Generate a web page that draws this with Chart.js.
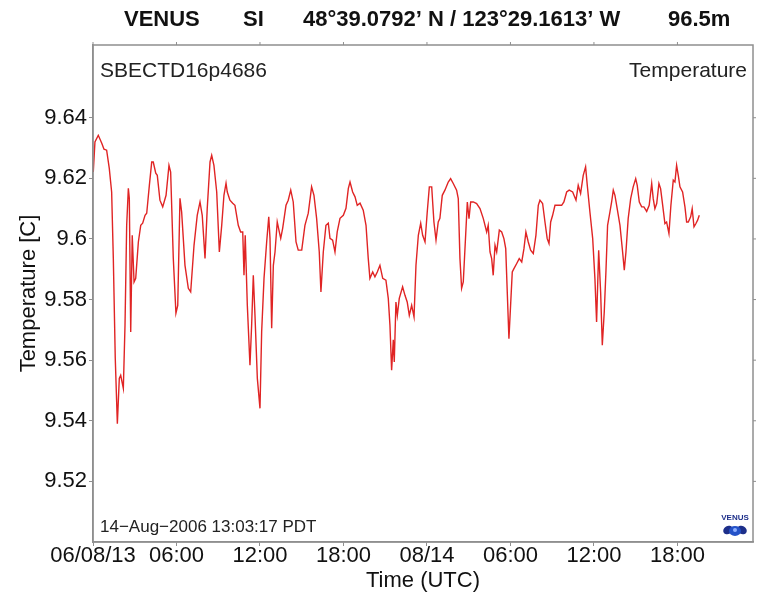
<!DOCTYPE html>
<html>
<head>
<meta charset="utf-8">
<script src="https://cdn.jsdelivr.net/npm/chart.js@4.4.0/dist/chart.umd.min.js"></script>
<style>
  body { margin: 0; background: #fff; }
</style>
</head>
<body>
<canvas id="myChart" width="760" height="600"></canvas>
<script>
// hours since 06/08/13 00:00 UTC
const times = [
  0.02,0.14,0.38,0.63,0.79,0.98,1.17,1.34,1.46,1.60,
  1.75,1.89,1.99,2.18,2.30,2.42,2.54,2.61,2.71,2.82,
  2.95,3.07,3.26,3.43,3.57,3.74,3.86,4.05,4.22,4.33,
  4.51,4.62,4.81,5.01,5.25,5.46,5.58,5.77,5.96,6.09,
  6.25,6.37,6.61,6.85,7.02,7.26,7.49,7.69,7.85,8.05,
  8.21,8.41,8.53,8.69,8.89,9.08,9.25,9.41,9.56,9.65,
  9.84,10.04,10.20,10.44,10.61,10.76,10.85,10.94,11.09,11.28,
  11.40,11.52,11.64,11.81,12.00,12.12,12.29,12.48,12.63,12.72,
  12.84,12.96,13.08,13.24,13.39,13.49,13.63,13.87,14.03,14.21,
  14.39,14.59,14.75,15.00,15.23,15.47,15.71,15.88,16.07,16.26,
  16.38,16.55,16.74,16.91,17.03,17.22,17.39,17.55,17.75,17.99,
  18.18,18.35,18.47,18.66,18.83,18.99,19.19,19.42,19.62,19.78,
  19.90,20.10,20.26,20.43,20.62,20.82,21.05,21.22,21.34,21.46,
  21.58,21.65,21.77,21.87,22.01,22.25,22.42,22.58,22.73,22.90,
  23.07,23.21,23.38,23.55,23.69,23.86,24.02,24.17,24.34,24.50,
  24.65,24.81,24.93,25.10,25.29,25.53,25.70,25.89,26.13,26.25,
  26.37,26.49,26.61,26.78,26.90,27.02,27.14,27.33,27.57,27.81,
  28.05,28.29,28.40,28.53,28.65,28.76,28.89,29.01,29.20,29.37,
  29.53,29.66,29.77,29.89,30.01,30.13,30.25,30.45,30.63,30.81,
  30.97,31.11,31.28,31.45,31.64,31.83,32.00,32.12,32.31,32.48,
  32.64,32.77,32.89,33.03,33.20,33.44,33.68,33.84,34.04,34.22,
  34.47,34.71,34.87,35.04,35.23,35.40,35.52,35.71,35.91,36.07,
  36.19,36.34,36.48,36.60,36.74,36.86,36.98,37.15,37.27,37.39,
  37.51,37.67,37.87,38.06,38.18,38.30,38.46,38.64,38.82,39.00,
  39.11,39.26,39.43,39.59,39.79,39.97,40.15,40.26,40.38,40.51,
  40.67,40.79,40.94,41.10,41.22,41.39,41.53,41.70,41.82,41.94,
  42.06,42.18,42.37,42.54,42.66,42.78,42.95,43.06,43.19,43.33,
  43.45,43.57
];
const temps = [
  9.6221,9.6320,9.6342,9.6316,9.6296,9.6293,9.6233,9.6155,9.5936,9.5606,
  9.5390,9.5540,9.5550,9.5507,9.5715,9.6045,9.6167,9.6134,9.5693,9.6012,
  9.5858,9.5870,9.5990,9.6045,9.6052,9.6078,9.6085,9.6177,9.6254,9.6254,
  9.6217,9.6210,9.6128,9.6106,9.6144,9.6243,9.6221,9.5936,9.5755,9.5781,
  9.6134,9.6089,9.5913,9.5837,9.5825,9.5979,9.6078,9.6122,9.6078,9.5936,
  9.6101,9.6254,9.6276,9.6243,9.6155,9.5957,9.6045,9.6144,9.6184,9.6155,
  9.6128,9.6118,9.6111,9.6045,9.6023,9.6023,9.5880,9.6012,9.5781,9.5583,
  9.5715,9.5880,9.5748,9.5540,9.5441,9.5693,9.5870,9.5990,9.6073,9.6002,
  9.5705,9.5913,9.5957,9.6056,9.6023,9.6002,9.6035,9.6111,9.6128,9.6161,
  9.6122,9.5990,9.5963,9.5963,9.6045,9.6085,9.6172,9.6144,9.6068,9.5957,
  9.5825,9.5957,9.6045,9.6052,9.6002,9.5996,9.5957,9.6023,9.6068,9.6078,
  9.6101,9.6167,9.6188,9.6155,9.6139,9.6111,9.6118,9.6095,9.6045,9.5936,
  9.5870,9.5891,9.5875,9.5891,9.5913,9.5870,9.5864,9.5804,9.5715,9.5567,
  9.5667,9.5594,9.5792,9.5748,9.5804,9.5842,9.5814,9.5792,9.5748,9.5781,
  9.5743,9.5913,9.6012,9.6052,9.6012,9.5990,9.6089,9.6172,9.6172,9.6056,
  9.5996,9.6056,9.6068,9.6144,9.6161,9.6188,9.6199,9.6183,9.6161,9.6133,
  9.5936,9.5837,9.5858,9.6012,9.6122,9.6067,9.6122,9.6122,9.6117,9.6100,
  9.6067,9.6023,9.6045,9.5957,9.5935,9.5880,9.5979,9.5957,9.6029,9.6023,
  9.6001,9.5968,9.5825,9.5671,9.5781,9.5891,9.5902,9.5919,9.5935,9.5924,
  9.5968,9.6023,9.5990,9.5963,9.5952,9.6012,9.6111,9.6128,9.6117,9.6056,
  9.6001,9.5985,9.6056,9.6078,9.6111,9.6111,9.6111,9.6122,9.6155,9.6161,
  9.6155,9.6128,9.6177,9.6150,9.6210,9.6238,9.6177,9.6089,9.6001,9.5869,
  9.5726,9.5963,9.5825,9.5649,9.5759,9.5891,9.6045,9.6089,9.6122,9.6161,
  9.6144,9.6100,9.6045,9.5957,9.5897,9.5957,9.6067,9.6133,9.6172,9.6199,
  9.6177,9.6122,9.6106,9.6106,9.6091,9.6111,9.6183,9.6133,9.6100,9.6117,
  9.6183,9.6166,9.6111,9.6051,9.6056,9.6018,9.6111,9.6194,9.6188,9.6243,
  9.6210,9.6172,9.6155,9.6106,9.6056,9.6056,9.6073,9.6100,9.6040,9.6051,
  9.6062,9.6078
];
const xTickHours = [0, 6, 12, 18, 24, 30, 36, 42];
const xTickLabels = ['06/08/13', '06:00', '12:00', '18:00', '08/14', '06:00', '12:00', '18:00'];
const yTicks = [9.52, 9.54, 9.56, 9.58, 9.60, 9.62, 9.64];
const yTickLabels = ['9.52', '9.54', '9.56', '9.58', '9.6', '9.62', '9.64'];

const FONT = '"Liberation Sans", Arial, Helvetica, sans-serif';
const frameColor = '#8f8f8f';

// frame, header line, inner labels and small logo
const extras = {
  id: 'extras',
  afterDraw(chart) {
    const c = chart.ctx;
    const a = chart.chartArea;
    c.save();
    c.strokeStyle = frameColor;
    c.lineWidth = 1.5;
    c.strokeRect(a.left, a.top, a.right - a.left, a.bottom - a.top);
    // ticks on top and right border
    c.lineWidth = 1;
    const xs = chart.scales.x, ys = chart.scales.y;
    xTickHours.forEach(h => {
      const px = xs.getPixelForValue(h);
      c.beginPath(); c.moveTo(px, a.top); c.lineTo(px, a.top - 3); c.stroke();
    });
    yTicks.forEach(v => {
      const py = ys.getPixelForValue(v);
      c.beginPath(); c.moveTo(a.right, py); c.lineTo(a.right + 3, py); c.stroke();
    });

    c.fillStyle = '#111';
    c.textBaseline = 'alphabetic';
    c.font = 'bold 22px ' + FONT;
    c.textAlign = 'left';
    c.fillText('VENUS', 124, 26);
    c.fillText('SI', 243, 26);
    c.fillText('48\u00B039.0792\u2019 N / 123\u00B029.1613\u2019 W', 303, 26);
    c.fillText('96.5m', 668, 26);

    c.fillStyle = '#222';
    c.font = '21px ' + FONT;
    c.fillText('SBECTD16p4686', a.left + 7, 77);
    c.textAlign = 'right';
    c.fillText('Temperature', a.right - 6, 77);
    c.textAlign = 'left';
    c.font = '17px ' + FONT;
    c.fillText('14\u2212Aug\u22122006 13:03:17 PDT', a.left + 7, a.bottom - 10);

    // VENUS logo
    const lx = a.right - 18, ly = a.bottom - 14;
    c.fillStyle = '#1d2f8a';
    c.font = 'bold 8px ' + FONT;
    c.textAlign = 'center';
    c.fillText('VENUS', lx, ly - 8);
    c.beginPath();
    c.ellipse(lx - 7, ly + 2, 5, 4, -0.5, 0, Math.PI * 2);
    c.ellipse(lx + 7, ly + 2, 5, 4, 0.5, 0, Math.PI * 2);
    c.fill();
    c.beginPath();
    c.ellipse(lx, ly + 3, 6, 5, 0, 0, Math.PI * 2);
    c.fillStyle = '#2452c8';
    c.fill();
    c.fillStyle = '#8fb0ff';
    c.beginPath();
    c.arc(lx, ly + 2, 2, 0, Math.PI * 2);
    c.fill();
    c.restore();
  }
};

const ctx = document.getElementById('myChart');
new Chart(ctx, {
  type: 'line',
  data: {
    datasets: [{
      label: 'Temperature',
      data: times.map((t, i) => ({x: t, y: temps[i]})),
      borderColor: '#e02424',
      borderWidth: 1.4,
      pointRadius: 0,
      tension: 0,
      fill: false
    }]
  },
  options: {
    responsive: false,
    animation: false,
    layout: { padding: { top: 45, right: 7, left: 0, bottom: 0 } },
    plugins: {
      legend: { display: false },
      tooltip: { enabled: false }
    },
    scales: {
      x: {
        type: 'linear',
        min: 0,
        max: 47.43,
        afterBuildTicks: axis => { axis.ticks = xTickHours.map(v => ({value: v})); },
        afterFit: axis => { axis.height = 58; },
        grid: { drawOnChartArea: false, tickLength: 4, color: frameColor },
        border: { display: true, color: frameColor, width: 1.5 },
        ticks: {
          autoSkip: false,
          maxRotation: 0,
          padding: -3,
          color: '#111',
          font: { family: FONT, size: 22 },
          callback: (value, index) => xTickLabels[index]
        },
        title: {
          display: true,
          text: 'Time (UTC)',
          color: '#111',
          font: { family: FONT, size: 22 },
          padding: { top: 0, bottom: 6 }
        }
      },
      y: {
        min: 9.50,
        max: 9.664,
        afterBuildTicks: axis => { axis.ticks = yTicks.map(v => ({value: v})); },
        afterFit: axis => { axis.width = 93; },
        grid: { drawOnChartArea: false, tickLength: 4, color: frameColor },
        border: { display: true, color: frameColor, width: 1.5 },
        ticks: {
          padding: 2,
          color: '#111',
          font: { family: FONT, size: 22 },
          callback: (value, index) => yTickLabels[index]
        },
        title: {
          display: true,
          text: 'Temperature [C]',
          color: '#111',
          font: { family: FONT, size: 22 },
          padding: { top: 16, bottom: 0 }
        }
      }
    }
  },
  plugins: [extras]
});
</script>
</body>
</html>
